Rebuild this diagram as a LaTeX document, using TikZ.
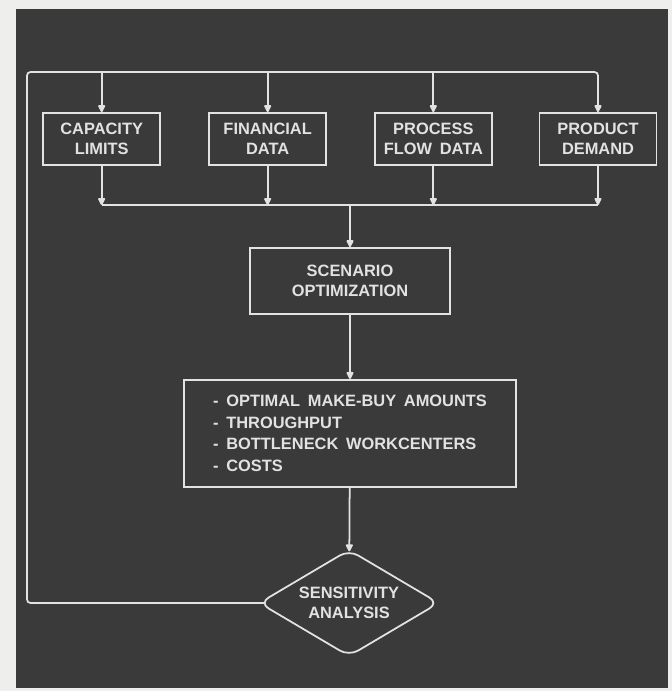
\documentclass[tikz,border=0pt]{standalone}
\usepackage{fontspec}
\setmainfont[WordSpace=1.7]{Liberation Sans}
\usepackage{xcolor}
\usepackage{tikz}
\usetikzlibrary{arrows.meta, shapes.geometric}
\definecolor{board}{RGB}{58,58,58}
\definecolor{chalk}{RGB}{226,226,226}
\definecolor{paper}{RGB}{238,238,236}
\tikzset{every picture/.style={scale=1, line width=1.5pt, color=chalk,
  every node/.style={rectangle, draw=chalk, text=chalk, align=center, inner sep=0pt,
    font=\bfseries\fontsize{14}{17.5}\selectfont}},
  arr/.style={-{Triangle[length=7pt, width=6.5pt, round]}},
  inbox/.style={minimum width=3.51cm, minimum height=1.56cm}}

\begin{document}
\begin{tikzpicture}

    % paper and board
    \fill[paper] (0, 0) rectangle (20.16, -20.73);
    \fill[board] (0.48, -0.27) rectangle (20.04, -20.64);

    \node[inbox] (n1) at (3.05, -4.17) {CAPACITY\\LIMITS};
    \node[inbox] (n2) at (8.03, -4.17) {FINANCIAL\\DATA};
    \node[inbox] (n3) at (13.0, -4.17) {PROCESS\\FLOW DATA};
    \node[inbox] (n4) at (17.94, -4.17) {PRODUCT\\DEMAND};

    \node[minimum width=6cm, minimum height=1.98cm] (n5) at (10.5, -8.43) {SCENARIO\\OPTIMIZATION};

    \node[minimum width=9.96cm, minimum height=3.21cm, align=left,
      font=\bfseries\fontsize{14}{18.5}\selectfont] (n6) at (10.5, -13.0)
      {- OPTIMAL MAKE-BUY AMOUNTS\\- THROUGHPUT\\- BOTTLENECK WORKCENTERS\\- COSTS};

    \node[diamond, aspect=1.7, rounded corners=9pt, minimum width=5.4cm,
      minimum height=3.2cm] (n7) at (10.47, -18.09) {SENSITIVITY\\ANALYSIS};

    \coordinate (top) at (0.81, -2.16);
    \coordinate (join) at (10.5, -6.15);

    % feedback loop and input bus
    \draw[arr, rounded corners=3pt, shorten <=-6pt] (n7.west) -| (top) -| (n4);
    \foreach \to in {n1, n2, n3} \draw[arr] (\to |- top) -- (\to);

    % collecting bus
    \foreach \from in {n1, n2, n3, n4} \draw[arr] (\from) -- (\from |- join);
    \draw (n1 |- join) -- (n4 |- join);
    \draw[arr] (join) -- (n5);
    \draw[arr] (n5) -- (n6);
    \draw[arr, shorten >=-2pt] (n6) -- (n7);
  \end{tikzpicture}
\end{document}
